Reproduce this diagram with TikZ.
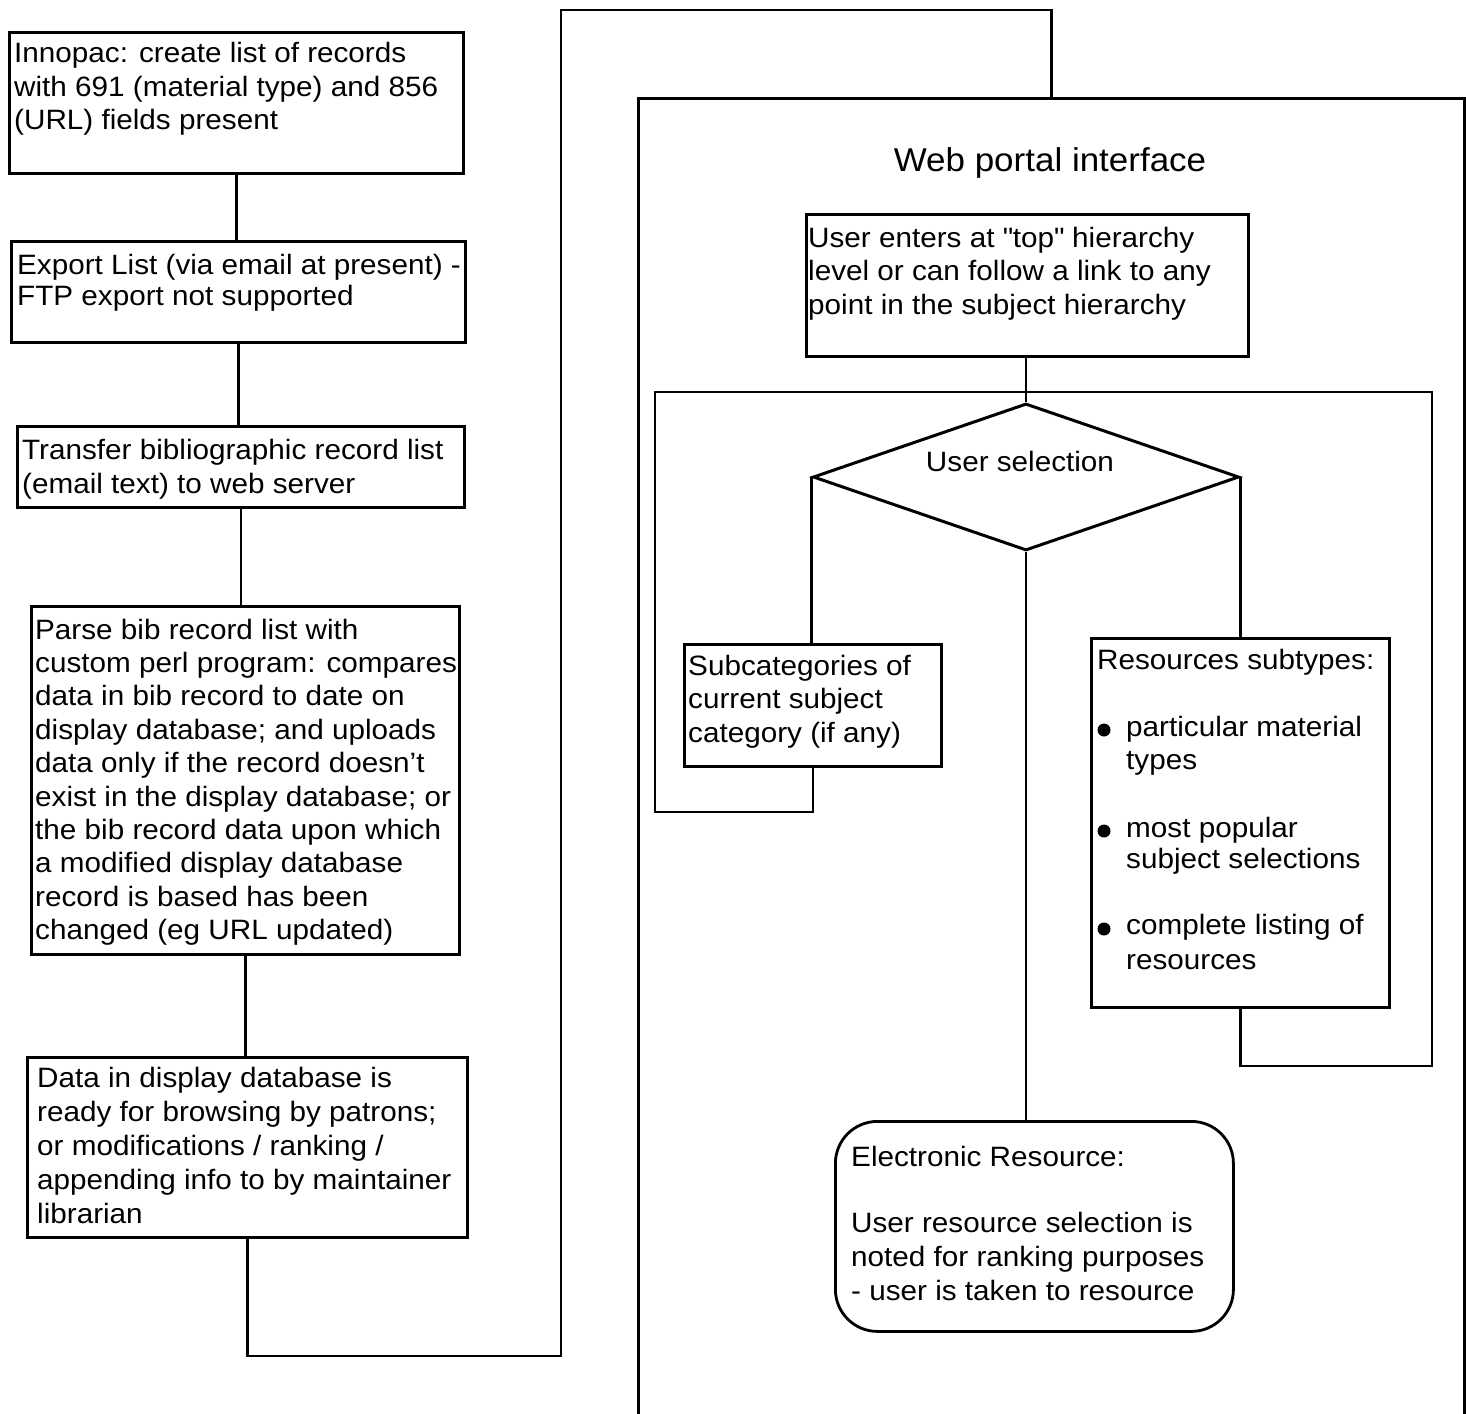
\documentclass[tikz,border=0pt]{standalone}
\usepackage{fontspec}
\setmainfont{Liberation Sans}[FakeStretch=1.06]
\usetikzlibrary{shapes.geometric}
\newcommand\fsz[1]{\fontsize{28}{#1}\selectfont}
\newcommand\tl[1]{\parbox[t]{700pt}{\raggedright #1}}
\begin{document}
\begin{tikzpicture}[x=1pt,y=-1pt,
  box/.style={draw, line width=2.8pt, inner sep=0pt, anchor=north west},
  con/.style={line width=2.3pt},
  txt/.style={anchor=base west, inner sep=0pt, font=\fsz{33.5}},
  dot/.style={circle, fill, inner sep=0pt, minimum size=13pt}]
\useasboundingbox (0,0) rectangle (1466,1413);
\clip (0,0) rectangle (1466,1413);
\fill[white] (0,0) rectangle (1466,1413);

% left column boxes
\node[box, minimum width=454pt, minimum height=141pt] (b1) at (8,31) {};
\node[box, minimum width=454pt, minimum height=101pt] (b2) at (10,240) {};
\node[box, minimum width=447pt, minimum height=81pt]  (b3) at (16,425) {};
\node[box, minimum width=428pt, minimum height=348pt] (b4) at (30,605) {};
\node[box, minimum width=440pt, minimum height=180pt] (b5) at (26,1056) {};

\node[txt] (t1) at (14,63) {\tl{Innopac: create list of records\\with 691 (material type) and 856\\(URL) fields present}};
\node[txt, font=\fsz{31}] (t2) at (17,274) {\tl{Export List (via email at present) -\\FTP export not supported}};
\node[txt, font=\fsz{34}] (t3) at (22,459) {\tl{Transfer bibliographic record list\\(email text) to web server}};
\node[txt, font=\fsz{33.4}] (t4) at (35,639) {\tl{Parse bib record list with\\custom perl program: compares\\data in bib record to date on\\display database; and uploads\\data only if the record doesn't\\exist in the display database; or\\the bib record data upon which\\a modified display database\\record is based has been\\changed (eg URL updated)}};
\node[txt, font=\fsz{34}] (t5) at (37,1087) {\tl{Data in display database is\\ready for browsing by patrons;\\or modifications / ranking /\\appending info to by maintainer\\librarian}};

% web portal
\node[box, minimum width=826pt, minimum height=1320pt] (portal) at (637,97) {};
\node[anchor=base, inner sep=0pt, font=\fontsize{33}{40}\selectfont] (title) at (1050,171) {Web portal interface};

\node[box, minimum width=442pt, minimum height=142pt] (ue) at (805,213) {};
\node[txt] (tue) at (808,247) {\tl{User enters at \textquotedbl top\textquotedbl{} hierarchy\\level or can follow a link to any\\point in the subject hierarchy}};

\node[diamond, draw, line width=3pt, inner sep=0pt, minimum width=426pt, minimum height=147pt] (dia) at (1026,477) {};
\node[anchor=base, inner sep=0pt, font=\fsz{34}] (tdia) at (1020,471) {User selection};

\node[box, minimum width=257pt, minimum height=122pt] (sub) at (683,643) {};
\node[txt] (tsub) at (688,675) {\tl{Subcategories of\\current subject\\category (if any)}};

\node[box, minimum width=298pt, minimum height=369pt] (res) at (1090,637) {};
\node[txt] (tres) at (1097,669) {Resources subtypes:};
\node[dot] (d1) at (1104,730) {};
\node[dot] (d2) at (1104,831) {};
\node[dot] (d3) at (1104,929) {};
\node[txt] (tr1) at (1126,736) {\tl{particular material\\types}};
\node[txt, font=\fsz{31.5}] (tr2) at (1126,837) {\tl{most popular\\subject selections}};
\node[txt, font=\fsz{35}] (tr3) at (1126,934) {\tl{complete listing of\\resources}};

\node[draw, line width=2.8pt, rounded corners=42pt, inner sep=0pt, anchor=north west,
      minimum width=398pt, minimum height=210pt] (er) at (834,1120) {};
\node[txt, font=\fsz{34}] (ter) at (851,1166) {\tl{Electronic Resource:\\[32pt]User resource selection is\\noted for ranking purposes\\- user is taken to resource}};

% connectors, left column
\draw[con] (b1.south) -- (b1.south |- b2.north);
\draw[con] (b2.south) -- (b2.south |- b3.north);
\draw[con] (b3.south) -- (b3.south |- b4.north);
\draw[con] (b4.south) -- (b4.south |- b5.north);
\coordinate (lowturn) at (246,1356);
\coordinate (upturn) at (561,10);
\draw[con] (b5.south) -- (b5.south |- lowturn) -| (upturn) -| (portal.north);

% connectors, portal
\draw[con] (dia.north |- ue.south) -- (dia.north);
\draw[con] (dia.west) -- (dia.west |- sub.north);
\draw[con] (dia.east) -- (dia.east |- res.north);
\draw[con] (dia.south) -- (dia.south |- er.north);
\coordinate (lb) at (655,812);
\coordinate (lt) at (655,392);
\coordinate (rt) at (1432,392);
\coordinate (rb) at (1432,1066);
\draw[con] (sub.south) |- (lb) -- (lt) -- (rt) -- (rb) -| (res.south);
\end{tikzpicture}
\end{document}
